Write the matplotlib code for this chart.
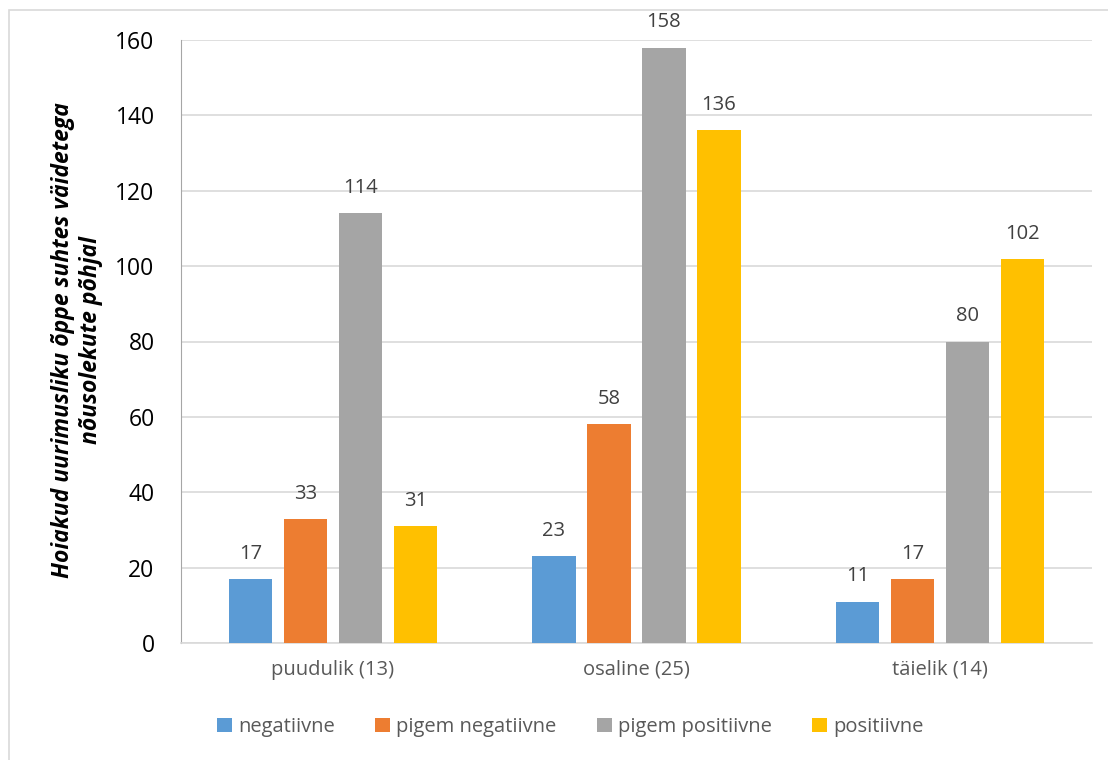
import matplotlib
matplotlib.use("Agg")
import matplotlib.pyplot as plt
import numpy as np
from matplotlib.patches import Rectangle

categories = ["puudulik (13)", "osaline (25)", "täielik (14)"]
series_names = ["negatiivne", "pigem negatiivne", "pigem positiivne", "positiivne"]
negatiivne = [17, 23, 11]
pigem_negatiivne = [33, 58, 17]
pigem_positiivne = [114, 158, 80]
positiivne = [31, 136, 102]
colors = ["#5B9BD5", "#ED7D31", "#A5A5A5", "#FFC000"]
y_ticks = [0, 20, 40, 60, 80, 100, 120, 140, 160]
ylabel = "Hoiakud uurimusliku õppe suhtes väidetega\nnõusolekute põhjal"

plt.rcParams['font.family'] = ['Open Sans', 'DejaVu Sans']

fig = plt.figure(figsize=(11.08, 7.6), dpi=100)
ax = fig.add_axes([181/1108, 1 - 643/760, (1092-181)/1108, (643-40)/760])

# figure border
fig.patches.append(Rectangle((9/1108, -0.01), 1.05, 1 - 10/760 + 0.01, transform=fig.transFigure,
                             fill=False, edgecolor="#D9D9D9", linewidth=1.2))

data = [negatiivne, pigem_negatiivne, pigem_positiivne, positiivne]
x = np.arange(len(categories))
slot = 0.181
width = 0.142
for i, (vals, c, name) in enumerate(zip(data, colors, series_names)):
    pos = x + (i - 1.5) * slot
    bars = ax.bar(pos, vals, width, color=c, label=name, zorder=3)
    for p, v in zip(pos, vals):
        ax.text(p, v + 4, str(v), ha="center", va="bottom", fontsize=14.5, color="#404040")

ax.set_xlim(-0.5, 2.5)
ax.set_ylim(0, 160)
ax.set_yticks(y_ticks)
ax.set_yticklabels([str(t) for t in y_ticks], fontsize=16.5, color="black")
ax.set_xticks(x)
ax.set_xticklabels(categories, fontsize=14.5, color="#595959")
ax.tick_params(axis="both", length=0)
ax.tick_params(axis="y", pad=19)
ax.tick_params(axis="x", pad=12)
ax.yaxis.grid(True, color="#D9D9D9", linewidth=1.2, zorder=0)
ax.set_axisbelow(True)
for s in ["top", "right"]:
    ax.spines[s].set_visible(False)
ax.spines["left"].set_color("#A6A6A6")
ax.spines["bottom"].set_color("#D9D9D9")
ax.spines["bottom"].set_linewidth(1.2)

fig.text(77/1108, 1 - 340/760, ylabel, rotation=90, ha="center", va="center",
         fontsize=16.5, fontweight="bold", fontstyle="italic", color="black", linespacing=1.25)

handles, labels = ax.get_legend_handles_labels()
leg = fig.legend(handles, labels, loc="center", bbox_to_anchor=(570/1108, 1 - 727/760), ncol=4,
                 frameon=False, fontsize=14.5, handlelength=0.75, handleheight=0.75,
                 handletextpad=0.3, columnspacing=2.0)
for t in leg.get_texts():
    t.set_color("#595959")

fig.savefig("out.png", dpi=100)
